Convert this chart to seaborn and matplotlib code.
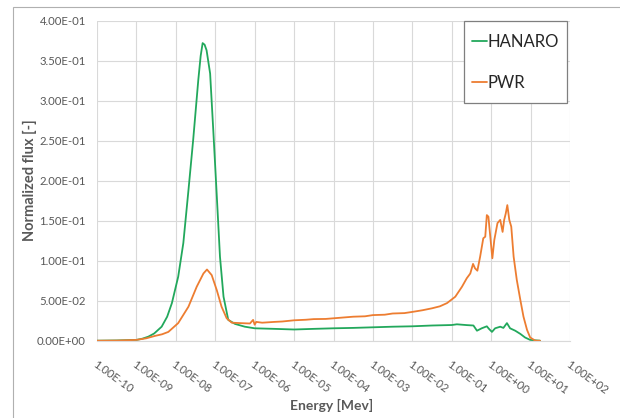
import numpy as np
import pandas as pd
import matplotlib
matplotlib.use("Agg")
import matplotlib.pyplot as plt
import seaborn as sns
from matplotlib.patches import Rectangle
from matplotlib.lines import Line2D

# ---------------- data (log10 of energy in MeV, normalized flux) ----------------
hanaro_log_e = [-10.0, -9.5, -9.0, -8.85, -8.70, -8.55, -8.36, -8.22, -8.10, -7.94,
                -7.81, -7.68, -7.56, -7.43, -7.37, -7.32, -7.27, -7.22, -7.13, -7.05,
                -6.96, -6.88, -6.79, -6.67, -6.50, -6.25, -6.0, -5.5, -5.0, -4.5,
                -4.0, -3.5, -3.03, -2.5, -2.0, -1.5, -1.0, -0.87, -0.62, -0.45,
                -0.36, -0.30, -0.24, -0.11, -0.06, 0.02, 0.10, 0.23, 0.31, 0.40,
                0.48, 0.61, 0.74, 0.86, 0.99, 1.24]
hanaro_flux = [0.0, 0.0003, 0.001, 0.0025, 0.005, 0.009, 0.0175, 0.030, 0.047, 0.080,
               0.122, 0.188, 0.251, 0.326, 0.356, 0.372, 0.370, 0.363, 0.334, 0.263,
               0.180, 0.105, 0.055, 0.026, 0.021, 0.0175, 0.0155, 0.0148, 0.014, 0.0148,
               0.0155, 0.016, 0.0167, 0.0175, 0.018, 0.019, 0.0196, 0.0205, 0.0195, 0.019,
               0.0125, 0.014, 0.0155, 0.018, 0.015, 0.011, 0.0155, 0.0175, 0.016, 0.022,
               0.0155, 0.0125, 0.0085, 0.004, 0.001, 0.0]

pwr_log_e = [-10.0, -9.5, -9.0, -8.75, -8.53, -8.35, -8.19, -7.94, -7.68, -7.47,
             -7.30, -7.21, -7.09, -6.96, -6.84, -6.71, -6.58, -6.37, -6.12, -6.04,
             -6.0, -5.96, -5.81, -5.5, -5.3, -5.0, -4.7, -4.5, -4.2, -4.0,
             -3.7, -3.5, -3.2, -3.0, -2.7, -2.5, -2.2, -2.0, -1.75, -1.5,
             -1.3, -1.12, -0.91, -0.74, -0.62, -0.53, -0.46, -0.41, -0.35, -0.28,
             -0.20, -0.15, -0.11, -0.07, -0.03, 0.03, 0.08, 0.16, 0.23, 0.29,
             0.33, 0.37, 0.41, 0.46, 0.51, 0.57, 0.65, 0.74, 0.82, 0.91,
             0.99, 1.12, 1.24]
pwr_flux = [0.0, 0.0002, 0.001, 0.003, 0.006, 0.008, 0.011, 0.022, 0.0425, 0.0675,
            0.084, 0.089, 0.082, 0.063, 0.0425, 0.028, 0.0225, 0.022, 0.0215, 0.026,
            0.020, 0.0235, 0.0225, 0.0235, 0.024, 0.0255, 0.0262, 0.027, 0.0272, 0.028,
            0.0292, 0.030, 0.0305, 0.032, 0.0325, 0.034, 0.0345, 0.036, 0.038, 0.0405,
            0.043, 0.047, 0.055, 0.0675, 0.078, 0.084, 0.096, 0.0905, 0.0875, 0.105,
            0.128, 0.130, 0.157, 0.155, 0.134, 0.103, 0.126, 0.147, 0.151, 0.136,
            0.151, 0.159, 0.1695, 0.151, 0.1425, 0.105, 0.076, 0.051, 0.030, 0.0135,
            0.004, 0.0, 0.0]

series_names = ["HANARO", "PWR"]
series_colors = ["#22a85c", "#ed7d31"]

x_tick_labels = ["1.00E-10", "1.00E-09", "1.00E-08", "1.00E-07", "1.00E-06", "1.00E-05",
                 "1.00E-04", "1.00E-03", "1.00E-02", "1.00E-01", "1.00E+00", "1.00E+01",
                 "1.00E+02"]
y_tick_values = [0.0, 0.05, 0.10, 0.15, 0.20, 0.25, 0.30, 0.35, 0.40]
y_tick_labels = ["0.00E+00", "5.00E-02", "1.00E-01", "1.50E-01", "2.00E-01",
                 "2.50E-01", "3.00E-01", "3.50E-01", "4.00E-01"]

x_label = "Energy [Mev]"
y_label = "Normalized flux [-]"

# ---------------- build table ----------------
df = pd.concat([
    pd.DataFrame({"energy": np.power(10.0, hanaro_log_e), "flux": hanaro_flux, "series": "HANARO"}),
    pd.DataFrame({"energy": np.power(10.0, pwr_log_e), "flux": pwr_flux, "series": "PWR"}),
], ignore_index=True)

sns.set_style("white")
plt.rcParams["font.family"] = ["Lato", "DejaVu Sans"]

W, H = 620, 418
fig = plt.figure(figsize=(W / 100, H / 100), dpi=100)
ax = fig.add_axes([97 / W, (H - 340.7) / H, 473 / W, 320 / H])

sns.lineplot(data=df, x="energy", y="flux", hue="series", hue_order=series_names,
             palette=series_colors, linewidth=1.3, ax=ax, legend=False, sort=False)

ax.set_xscale("log")
ax.set_xlim(1e-10, 1e2)
ax.set_ylim(0, 0.4)

tick_pos = [10.0 ** k for k in range(-10, 3)]
ax.set_xticks(tick_pos)
ax.set_xticklabels(x_tick_labels)
ax.xaxis.set_minor_locator(matplotlib.ticker.NullLocator())
ax.set_yticks(y_tick_values)
ax.set_yticklabels(y_tick_labels)

grid_c = "#d9d9d9"
ax.grid(True, which="major", color=grid_c, linewidth=0.8)
ax.set_axisbelow(True)
for s in ["top", "right", "left"]:
    ax.spines[s].set_visible(False)
ax.spines["bottom"].set_color(grid_c)
ax.spines["bottom"].set_linewidth(0.8)

txt_c = "#595959"
ax.tick_params(axis="both", length=0, colors=txt_c, labelsize=8.2)
ax.tick_params(axis="y", pad=8)
ax.tick_params(axis="x", pad=13)
for lab in ax.get_xticklabels():
    lab.set_rotation(-36)
    lab.set_rotation_mode("anchor")
    lab.set_ha("left")
    lab.set_va("top")

ax.set_xlabel("")
ax.set_ylabel("")
fig.text(332 / W, 1 - 405 / H, x_label, ha="center", va="center",
         fontsize=10, fontweight="bold", color=txt_c)
fig.text(30 / W, 1 - 180 / H, y_label, ha="center", va="center", rotation=90,
         fontsize=10.5, fontweight="bold", color=txt_c)

# legend (text + handles), frame drawn as a separate box
handles = [Line2D([0], [0], color=c, lw=1.3) for c in series_colors]
leg = ax.legend(handles, series_names, loc="upper left",
                bbox_to_anchor=(472 / W, 1 - 34 / H), bbox_transform=fig.transFigure,
                fontsize=12, frameon=False, handlelength=0.9,
                handletextpad=0.05, labelspacing=1.48, borderpad=0.0, borderaxespad=0)
for t in leg.get_texts():
    t.set_color("#262626")
leg.set_zorder(6)
ax.add_patch(Rectangle((464 / W, 1 - 103 / H), 103 / W, 82 / H,
                       transform=fig.transFigure, clip_on=False, fill=True,
                       facecolor="white", edgecolor="#7f7f7f", linewidth=0.9, zorder=5))

# chart outer frame (only top and left edges fall inside the image)
fig.patches.append(Rectangle((12.7 / W, -0.1), 1.2, 1 - 7 / H + 0.1,
                             transform=fig.transFigure, fill=False,
                             edgecolor="#b0b0b0", linewidth=0.8))

fig.savefig("out.png", dpi=100)
